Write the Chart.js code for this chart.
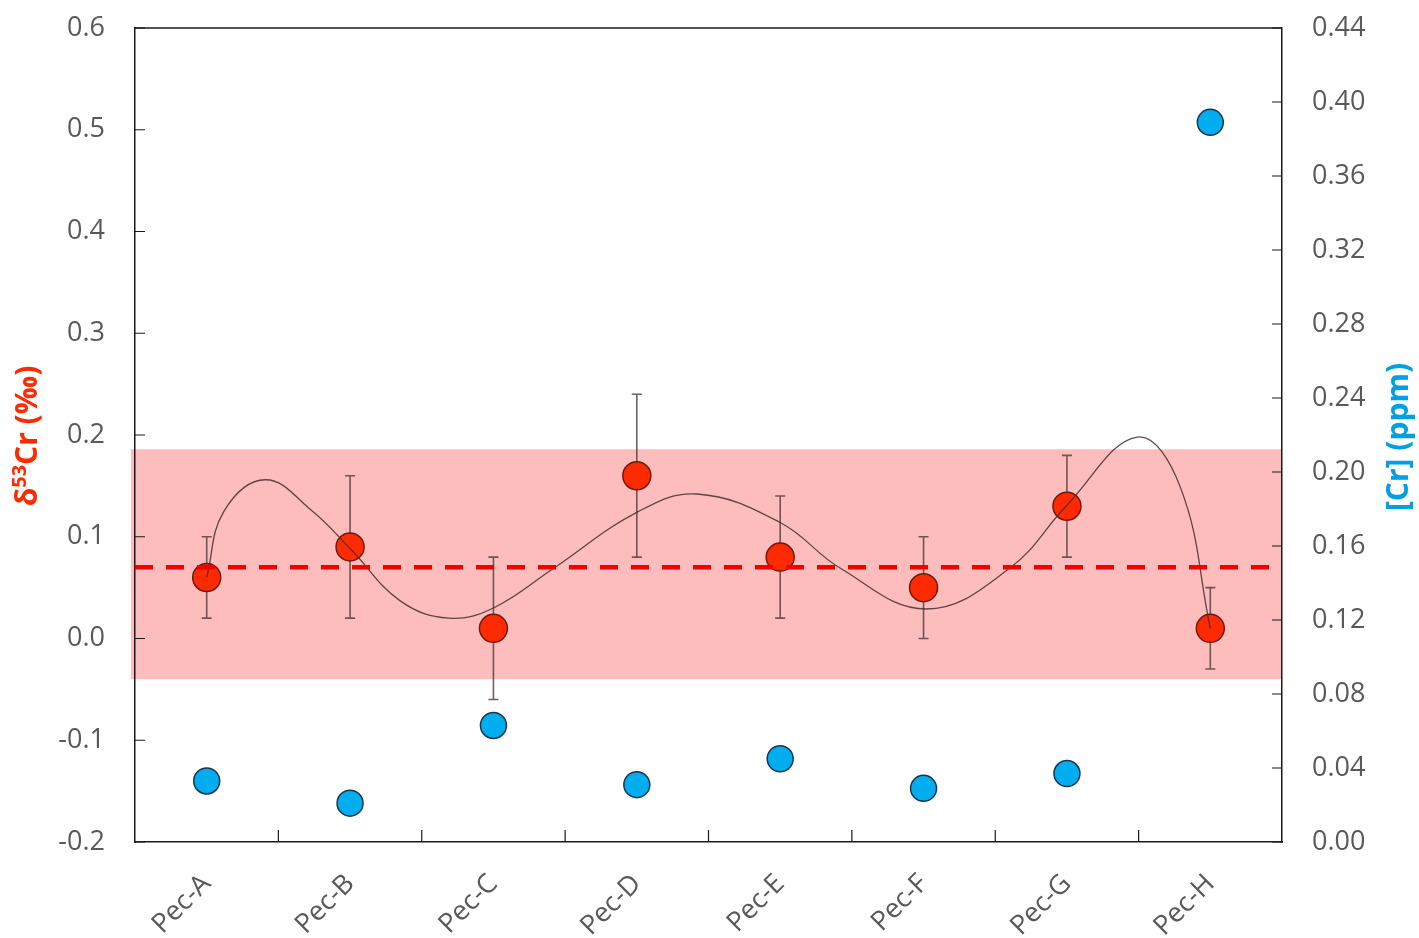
<!DOCTYPE html>
<html>
<head>
<meta charset="utf-8">
<script src="https://cdn.jsdelivr.net/npm/chart.js@4.4.1/dist/chart.umd.min.js"></script>
<style>
  html, body { margin: 0; padding: 0; background: #fff; overflow: hidden; }
  #wrap { width: 1419px; height: 938px; position: relative; }
</style>
</head>
<body>
<div id="wrap"><canvas id="c" width="1419" height="938"></canvas></div>
<script>
// Samples
const categories = ['Pec-A', 'Pec-B', 'Pec-C', 'Pec-D', 'Pec-E', 'Pec-F', 'Pec-G', 'Pec-H'];

// δ53Cr (‰) with error bar limits
const deltaValues = [0.06, 0.09, 0.01, 0.16, 0.08, 0.05, 0.13, 0.01];
const deltaLow    = [0.02, 0.02, -0.06, 0.08, 0.02, 0.00, 0.08, -0.03];
const deltaHigh   = [0.10, 0.16, 0.08, 0.24, 0.14, 0.10, 0.18, 0.05];

// [Cr] (ppm)
const crValues = [0.033, 0.021, 0.063, 0.031, 0.045, 0.029, 0.037, 0.389];

// Mean δ53Cr and its shaded range
const meanDelta = 0.07;
const bandLow = -0.04;
const bandHigh = 0.186;

// Smoothed trend line (position along the sample axis, δ53Cr)
const curveX = [0.00, 0.12, 0.41, 0.73, 1.01, 1.35, 1.69, 2.00, 2.42, 3.00, 3.42, 4.00, 4.42, 5.02, 5.60, 6.00, 6.49, 6.79, 7.00];
const curveY = [0.060, 0.125, 0.156, 0.126, 0.087, 0.037, 0.020, 0.030, 0.069, 0.124, 0.142, 0.114, 0.069, 0.029, 0.069, 0.131, 0.198, 0.149, 0.010];

// Axis tick settings
const leftMin = -0.2, leftMax = 0.6, leftStep = 0.1;
const rightMin = 0, rightMax = 0.44, rightStep = 0.04;

const FONT = "'Open Sans', 'Noto Sans', sans-serif";
const TICK_COLOR = '#595959';

const overlay = {
  id: 'overlay',
  beforeDraw(chart) {
    const { ctx, chartArea: a, scales: { y } } = chart;
    const yt = y.getPixelForValue(bandHigh), yb = y.getPixelForValue(bandLow);
    ctx.save();
    ctx.fillStyle = '#FDBDBD';
    ctx.fillRect(a.left - 4, yt, a.right - a.left + 4, yb - yt);
    ctx.restore();
  },
  beforeDatasetsDraw(chart) {
    const { ctx, scales: { x, y } } = chart;
    ctx.save();
    ctx.strokeStyle = 'rgba(75,58,58,0.8)';
    ctx.lineWidth = 1.6;
    categories.forEach((c, i) => {
      const px = x.getPixelForValue(i);
      const y1 = y.getPixelForValue(deltaLow[i]);
      const y2 = y.getPixelForValue(deltaHigh[i]);
      ctx.beginPath();
      ctx.moveTo(px, y1); ctx.lineTo(px, y2);
      ctx.moveTo(px - 5, y1); ctx.lineTo(px + 5, y1);
      ctx.moveTo(px - 5, y2); ctx.lineTo(px + 5, y2);
      ctx.stroke();
    });
    ctx.restore();
  },
  afterDatasetsDraw(chart) {
    const { ctx, chartArea: a, scales: { y } } = chart;
    const py = y.getPixelForValue(meanDelta);
    ctx.save();
    ctx.strokeStyle = '#F20000';
    ctx.lineWidth = 4.5;
    ctx.setLineDash([18, 13]);
    ctx.beginPath();
    ctx.moveTo(a.left, py);
    ctx.lineTo(a.right, py);
    ctx.stroke();
    ctx.restore();
  },
  afterDraw(chart) {
    const { ctx, chartArea: a, scales: { x, y, y2 } } = chart;
    ctx.save();
    ctx.strokeStyle = '#1a1a1a';
    ctx.lineWidth = 1.5;
    // top frame line
    ctx.beginPath();
    ctx.moveTo(a.left, a.top); ctx.lineTo(a.right, a.top);
    ctx.stroke();
    // inward tick marks
    ctx.lineWidth = 1.2;
    ctx.beginPath();
    y.ticks.forEach(t => {
      const py = y.getPixelForValue(t.value);
      ctx.moveTo(a.left, py); ctx.lineTo(a.left + 10, py);
    });
    y2.ticks.forEach(t => {
      const py = y2.getPixelForValue(t.value);
      ctx.moveTo(a.right, py); ctx.lineTo(a.right - 10, py);
    });
    for (let i = 0; i < categories.length - 1; i++) {
      const px = (x.getPixelForValue(i) + x.getPixelForValue(i + 1)) / 2;
      ctx.moveTo(px, a.bottom); ctx.lineTo(px, a.bottom - 12);
    }
    ctx.stroke();

    // left axis title: δ53Cr (‰) with superscript mass number
    ctx.fillStyle = '#FF2A00';
    ctx.textBaseline = 'middle';
    ctx.textAlign = 'left';
    const big = 'bold 30px ' + FONT, small = 'bold 20px ' + FONT;
    ctx.font = big;
    const wD = ctx.measureText('δ').width;
    const wR = ctx.measureText('Cr (‰)').width;
    ctx.font = small;
    const wS = ctx.measureText('53').width;
    const total = wD + wS + wR;
    ctx.save();
    ctx.translate(28, 436);
    ctx.rotate(-Math.PI / 2);
    let cx = -total / 2;
    ctx.font = big; ctx.fillText('δ', cx, 0); cx += wD;
    ctx.font = small; ctx.fillText('53', cx, -8); cx += wS;
    ctx.font = big; ctx.fillText('Cr (‰)', cx, 0);
    ctx.restore();

    // right axis title
    ctx.save();
    ctx.fillStyle = '#00A0E3';
    ctx.font = 'bold 30px ' + FONT;
    ctx.textAlign = 'center';
    ctx.textBaseline = 'middle';
    ctx.translate(1399, 437);
    ctx.rotate(-Math.PI / 2);
    ctx.fillText('[Cr] (ppm)', 0, 0);
    ctx.restore();
    ctx.restore();
  }
};

new Chart(document.getElementById('c'), {
  type: 'line',
  data: {
    labels: categories,
    datasets: [
      {
        label: 'trend',
        xAxisID: 'xl',
        yAxisID: 'y',
        data: curveX.map((v, i) => ({ x: v, y: curveY[i] })),
        borderColor: 'rgba(70,45,45,0.85)',
        borderWidth: 1.3,
        pointRadius: 0,
        tension: 0.4,
        fill: false,
        order: 0
      },
      {
        label: 'δ53Cr',
        xAxisID: 'x',
        yAxisID: 'y',
        data: deltaValues,
        showLine: false,
        pointRadius: 14,
        pointBackgroundColor: '#FF2A00',
        pointBorderColor: '#6E1A12',
        pointBorderWidth: 1.5,
        order: 1
      },
      {
        label: '[Cr]',
        xAxisID: 'x',
        yAxisID: 'y2',
        data: crValues,
        showLine: false,
        pointRadius: 13,
        pointBackgroundColor: '#00AEEF',
        pointBorderColor: '#1B3550',
        pointBorderWidth: 1.5,
        order: 2
      }
    ]
  },
  options: {
    responsive: false,
    animation: false,
    events: [],
    layout: { padding: { top: 28, left: 0, right: 0, bottom: 0 } },
    plugins: { legend: { display: false }, tooltip: { enabled: false } },
    scales: {
      x: {
        type: 'category',
        position: 'bottom',
        offset: true,
        grid: { display: false, drawTicks: true, tickLength: 26 },
        border: { display: true, color: '#1a1a1a', width: 1.5 },
        ticks: {
          color: TICK_COLOR,
          font: { family: FONT, size: 27 },
          minRotation: 45,
          maxRotation: 45,
          padding: 0
        },
        afterFit(s) { s.height = 96; }
      },
      xl: {
        type: 'linear',
        display: false,
        min: -0.5,
        max: 7.5
      },
      y: {
        type: 'linear',
        position: 'left',
        min: leftMin,
        max: leftMax,
        grid: { display: false, drawTicks: true, tickLength: 30 },
        border: { display: true, color: '#1a1a1a', width: 1.5 },
        ticks: {
          stepSize: leftStep,
          color: TICK_COLOR,
          font: { family: FONT, size: 27 },
          padding: 0,
          callback: v => (Math.abs(v) < 1e-9 ? 0 : v).toFixed(1)
        },
        afterFit(s) { s.width = 135; }
      },
      y2: {
        type: 'linear',
        position: 'right',
        min: rightMin,
        max: rightMax,
        grid: { display: false, drawTicks: true, tickLength: 30 },
        border: { display: true, color: '#1a1a1a', width: 1.5 },
        ticks: {
          stepSize: rightStep,
          color: TICK_COLOR,
          font: { family: FONT, size: 27 },
          padding: 0,
          callback: v => v.toFixed(2)
        },
        afterFit(s) { s.width = 137; }
      }
    }
  },
  plugins: [overlay]
});
</script>
</body>
</html>
